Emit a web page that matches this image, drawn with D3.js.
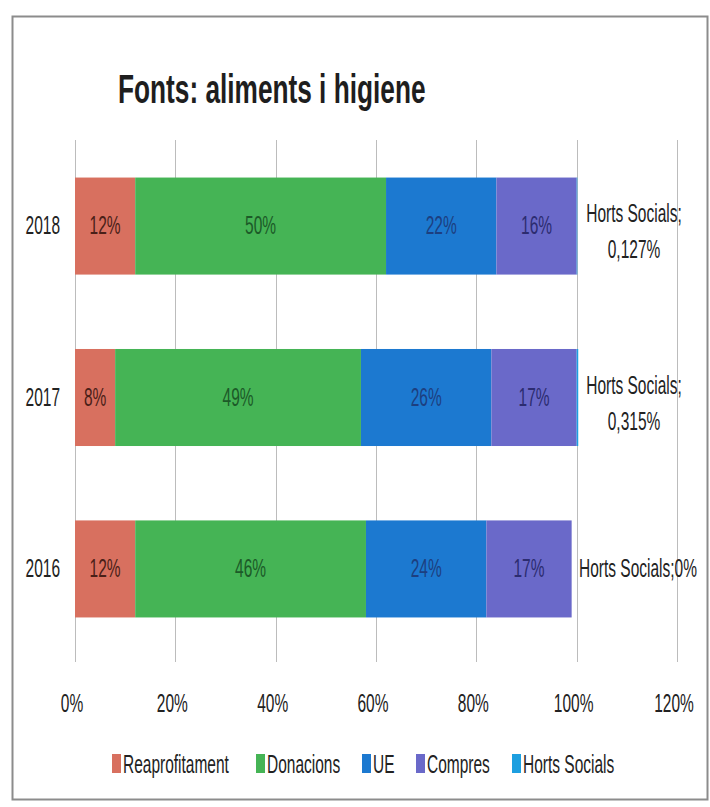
<!DOCTYPE html>
<html>
<head>
<meta charset="utf-8">
<script src="https://cdn.jsdelivr.net/npm/d3@7"></script>
<style>
  html, body { margin: 0; padding: 0; background: #fff; }
  svg { display: block; }
  text { font-family: "Liberation Sans", Arial, sans-serif; }
</style>
</head>
<body>
<svg id="chart" width="710" height="807"></svg>
<script>
// Stacked shares of food & hygiene sources per year (percent)
const years = ["2018", "2017", "2016"];
const seriesNames = ["Reaprofitament", "Donacions", "UE", "Compres", "Horts Socials"];
const reaprofitament = [12, 8, 12];
const donacions = [50, 49, 46];
const ue = [22, 26, 24];
const compres = [16, 17, 17];
const hortsSocials = [0.127, 0.315, 0];
const hortsLabels = ["0,127%", "0,315%", "0%"];
const xTicks = [0, 20, 40, 60, 80, 100, 120];

const colors = ["#d8705f", "#45b455", "#1c79d0", "#6a69c9", "#1d9fe0"];
const labelColors = ["#4a2018", "#1c5a28", "#1c3f80", "#2c2c70"];
const textColor = "#222";
const FS = 25;          // body font size
const SQUEEZE = 0.62;   // narrow the glyphs horizontally

// condense a text element horizontally around its own anchor point
function narrow(sel, f = SQUEEZE) {
  sel.each(function () {
    const tx = +this.getAttribute("x") || 0;
    const ty = +this.getAttribute("y") || 0;
    this.setAttribute("x", 0);
    this.setAttribute("y", 0);
    this.setAttribute("transform", `translate(${tx},${ty}) scale(${f},1)`);
  });
}

const rows = years.map((y, i) => ({
  year: y,
  "Reaprofitament": reaprofitament[i],
  "Donacions": donacions[i],
  "UE": ue[i],
  "Compres": compres[i],
  "Horts Socials": hortsSocials[i]
}));

const svg = d3.select("#chart");

// outer frame
svg.append("rect")
  .attr("x", 12.5).attr("y", 16.5)
  .attr("width", 695).attr("height", 783)
  .attr("fill", "none").attr("stroke", "#8c8c8c").attr("stroke-width", 2);

// title
svg.append("text")
  .attr("x", 118).attr("y", 103)
  .attr("font-size", 41).attr("font-weight", "bold")
  .attr("fill", "#1e1e1e")
  .text("Fonts: aliments i higiene")
  .call(narrow, 0.64);

const plotTop = 140, gridBottom = 662;
const x = d3.scaleLinear().domain([0, 120]).range([75, 677]);
const y = d3.scaleBand().domain(years).range([plotTop, 655]).paddingInner(0.434).paddingOuter(0.219);

// vertical gridlines
svg.append("g").selectAll("line").data(xTicks).join("line")
  .attr("x1", d => Math.round(x(d)) + 0.5).attr("x2", d => Math.round(x(d)) + 0.5)
  .attr("y1", plotTop).attr("y2", gridBottom)
  .attr("stroke", "#bcbcbc").attr("stroke-width", 1);

// x tick labels
svg.append("g").selectAll("text").data(xTicks).join("text")
  .attr("x", d => x(d) - 3).attr("y", 712)
  .attr("text-anchor", "middle")
  .attr("font-size", FS).attr("fill", textColor)
  .text(d => d + "%")
  .call(narrow);

// y category labels
svg.append("g").selectAll("text").data(years).join("text")
  .attr("x", 60).attr("y", d => y(d) + y.bandwidth() / 2 + 8)
  .attr("text-anchor", "end")
  .attr("font-size", FS).attr("fill", textColor)
  .text(d => d)
  .call(narrow);

const stacked = d3.stack().keys(seriesNames)(rows);

const layers = svg.append("g").selectAll("g").data(stacked).join("g")
  .attr("fill", (d, i) => colors[i]);

layers.selectAll("rect").data(d => d).join("rect")
  .attr("x", d => x(d[0]))
  .attr("y", d => y(d.data.year))
  .attr("width", d => x(d[1]) - x(d[0]))
  .attr("height", y.bandwidth());

// value labels inside segments
stacked.slice(0, 4).forEach((layer, i) => {
  svg.append("g").selectAll("text").data(layer).join("text")
    .attr("x", d => (x(d[0]) + x(d[1])) / 2)
    .attr("y", d => y(d.data.year) + y.bandwidth() / 2 + 8)
    .attr("text-anchor", "middle")
    .attr("font-size", FS)
    .attr("fill", labelColors[i])
    .text(d => (d[1] - d[0]) + "%")
    .call(narrow);
});

// Horts Socials labels beside the bars
years.forEach((yr, i) => {
  const cy = y(yr) + y.bandwidth() / 2;
  if (hortsSocials[i] > 0) {
    svg.append("text")
      .attr("x", 634).attr("y", cy - 4)
      .attr("text-anchor", "middle")
      .attr("font-size", FS).attr("fill", textColor)
      .text("Horts Socials;")
      .call(narrow);
    svg.append("text")
      .attr("x", 634).attr("y", cy + 32)
      .attr("text-anchor", "middle")
      .attr("font-size", FS).attr("fill", textColor)
      .text(hortsLabels[i])
      .call(narrow);
  } else {
    svg.append("text")
      .attr("x", 638).attr("y", cy + 8)
      .attr("text-anchor", "middle")
      .attr("font-size", FS).attr("fill", textColor)
      .text("Horts Socials;" + hortsLabels[i])
      .call(narrow);
  }
});

// legend
const legendX = [112, 256, 362, 416, 512];
const legend = svg.append("g").selectAll("g").data(seriesNames).join("g")
  .attr("transform", (d, i) => `translate(${legendX[i]},0)`);
legend.append("rect")
  .attr("x", 0).attr("y", 754).attr("width", 9).attr("height", 19)
  .attr("fill", (d, i) => colors[i]);
legend.append("text")
  .attr("x", 11).attr("y", 773)
  .attr("font-size", FS).attr("fill", textColor)
  .text(d => d)
  .call(narrow);
</script>
</body>
</html>
